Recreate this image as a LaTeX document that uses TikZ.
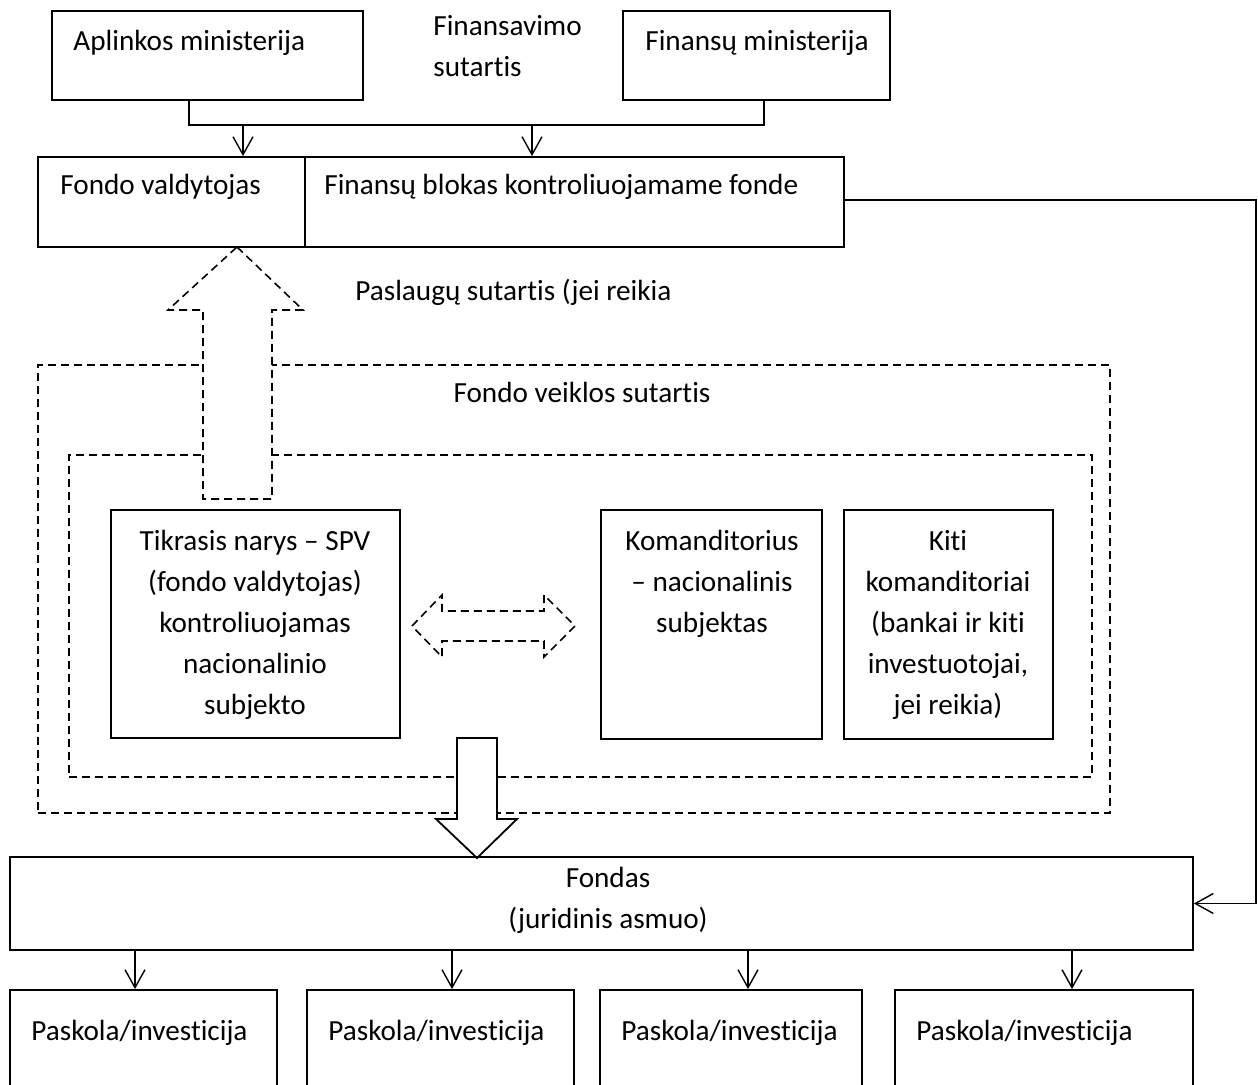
\documentclass[tikz,border=0pt]{standalone}
\usepackage{fontspec}
\setmainfont{Carlito}[Ligatures={TeX,NoCommon}]
\usetikzlibrary{arrows.meta,fit}

\begin{document}
\begin{tikzpicture}[x=0.5pt, y=-0.5pt,
  font=\fontsize{14.6pt}{20.5pt}\selectfont,
  box/.style={draw, line width=0.9pt, inner sep=0pt},
  frame/.style={draw, dash pattern=on 4pt off 2.5pt, line width=0.8pt, inner sep=0pt},
  txt/.style={inner sep=0pt},
  lines/.style={inner sep=0pt, align=center, anchor=north},
  link/.style={line width=0.7pt},
  arr/.style={line width=0.7pt, -{Straight Barb[length=9pt,width=10pt]}}]
\useasboundingbox (0,0) rectangle (1258,1085);
\clip (0,0) rectangle (1258,1085);

% ministries
\node[box, fit={(52,11) (363,100)}] (aplink) {};
\node[box, fit={(623,11) (890,100)}] (finmin) {};
\node[txt, anchor=base west] (aplinktxt) at (73,51) {Aplinkos ministerija};
\node[txt, anchor=base west] (finmintxt) at (645,51) {Finansų ministerija};
\node[txt, align=left, anchor=north west] (sutart) at (433,15) {Finansavimo\\sutartis};

% fund manager and finance block
\node[box, fit={(38,157) (305,247)}] (valdyt) {};
\node[box, fit={(305,157) (844,247)}] (blok) {};
\node[txt, anchor=base west] (valdyttxt) at (60,195) {Fondo valdytojas};
\node[txt, anchor=base west] (bloktxt) at (324,195) {Finansų blokas kontroliuojamame fonde};

\coordinate (joinL) at (189,125);
\coordinate (joinR) at (764,125);
\coordinate (aL) at (243,125);
\coordinate (aR) at (532,125);
\draw[link] (aplink.south -| joinL) -- (joinL) -- (joinR) -- (finmin.south -| joinR);
\draw[arr] (aL) -- (aL |- valdyt.north);
\draw[arr] (aR) -- (aR |- blok.north);

\node[txt, anchor=base west] (paslaug) at (355,301) {Paslaugų sutartis (jei reikia};

% contract frames
\node[frame, fit={(38,365) (1110,813)}] (veikla) {};
\node[txt, anchor=base] (veiklatxt) at (582,403) {Fondo veiklos sutartis};
\node[frame, fit={(69,455) (1092,777)}] (vidus) {};

% partners
\node[box, fit={(111,510) (400,738)}] (tikr) {};
\node[box, fit={(601,510) (822,739)}] (koman) {};
\node[box, fit={(844,510) (1053,739)}] (kiti) {};
\node[lines] (tikrtxt) at (255,530) {Tikrasis narys -- SPV\\(fondo valdytojas)\\kontroliuojamas\\nacionalinio\\subjekto};
\node[lines] (komantxt) at (712,530) {Komanditorius\\-- nacionalinis\\subjektas};
\node[lines] (kititxt) at (948,530) {Kiti\\komanditoriai\\(bankai ir kiti\\investuotojai,\\jei reikia)};

% block arrows
\draw[frame, fill=white] (237,247) -- (303,310) -- (272,310) -- (272,499)
  -- (203,499) -- (203,310) -- (168,310) -- cycle;
\draw[frame, fill=white] (412,626) -- (442,595) -- (442,611) -- (544,611) -- (544,595)
  -- (575,626) -- (544,657) -- (544,641) -- (442,641) -- (442,657) -- cycle;
\draw[line width=0.9pt, fill=white] (457,738) -- (497,738) -- (497,819) -- (517,819)
  -- (477,858) -- (436,819) -- (457,819) -- cycle;

% fund
\node[box, fit={(10,857) (1193,950)}] (fondas) {};
\node[lines] (fondastxt) at (608,867) {Fondas\\(juridinis asmuo)};

\coordinate (rail) at (1256,200);
\draw[arr] (blok.east |- rail) -- (rail) |- (fondas.east);

% loans
\foreach \i/\l/\r/\ax in {1/10/277/135, 2/307/574/452, 3/600/862/748, 4/895/1193/1072} {
  \node[box, fit={(\l,990) (\r,1100)}] (p\i) {};
  \node[txt, anchor=base west] (pt\i) at (\l+21,1040) {Paskola/investicija};
  \coordinate (a\i) at (\ax,0);
  \draw[arr] (fondas.south -| a\i) -- (p\i.north -| a\i);
}
\end{tikzpicture}
\end{document}
